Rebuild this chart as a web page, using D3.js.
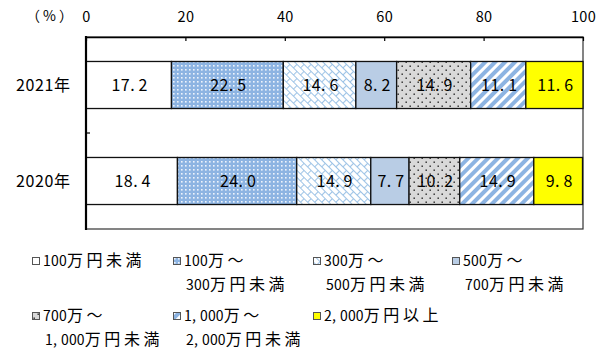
<!DOCTYPE html>
<html><head><meta charset="utf-8">
<script src="https://cdn.jsdelivr.net/npm/d3@7"></script>
<style>body{margin:0;background:#fff}svg{display:block}</style>
</head><body>
<svg id="c" width="605" height="356"></svg>
<script>
const years = ["2021年", "2020年"];
const seriesNames = ["100万円未満", "100万～300万円未満", "300万～500万円未満", "500万～700万円未満", "700万～1,000万円未満", "1,000万～2,000万円未満", "2,000万円以上"];
const legendLines = [["100万円未満"], ["100万～", "300万円未満"], ["300万～", "500万円未満"], ["500万～", "700万円未満"], ["700万～", "1,000万円未満"], ["1,000万～", "2,000万円未満"], ["2,000万円以上"]];
const values2021 = [17.2, 22.5, 14.6, 8.2, 14.9, 11.1, 11.6];
const values2020 = [18.4, 24.0, 14.9, 7.7, 10.2, 14.9, 9.8];
const tickValues = [0, 20, 40, 60, 80, 100];
const valueSets = [values2021, values2020];

const svg = d3.select("#c");
const FONT = "'Noto Sans CJK JP','Noto Sans',sans-serif";

// patterns
const defs = svg.append("defs");
const fills = ["#ffffff", "url(#p1)", "url(#p2)", "#b9cde5", "url(#p4)", "url(#p5)", "#ffff00"];
let p = defs.append("pattern").attr("id", "p1").attr("patternUnits", "userSpaceOnUse").attr("width", 4).attr("height", 4);
p.append("rect").attr("width", 4).attr("height", 4).attr("fill", "#8db4e2");
p.append("rect").attr("x", 1).attr("y", 1).attr("width", 1.6).attr("height", 1.6).attr("fill", "#eef4fc");
p = defs.append("pattern").attr("id", "p2").attr("patternUnits", "userSpaceOnUse").attr("width", 10).attr("height", 10).attr("patternTransform", "rotate(45)");
p.append("rect").attr("width", 10).attr("height", 10).attr("fill", "#fff");
p.append("path").attr("d", "M0,0.5H10M0,5.5H10M0.5,0.5V5.5M5.5,5.5V10.5").attr("stroke", "#9dc3e6").attr("stroke-width", 1.1).attr("fill", "none");
p = defs.append("pattern").attr("id", "p4").attr("patternUnits", "userSpaceOnUse").attr("width", 8).attr("height", 8);
p.append("rect").attr("width", 8).attr("height", 8).attr("fill", "#d9d9d9");
p.append("rect").attr("x", 1.5).attr("y", 1.5).attr("width", 1.4).attr("height", 1.4).attr("fill", "#222");
p.append("rect").attr("x", 5.5).attr("y", 5.5).attr("width", 1.4).attr("height", 1.4).attr("fill", "#222");
p = defs.append("pattern").attr("id", "p5").attr("patternUnits", "userSpaceOnUse").attr("width", 7).attr("height", 7).attr("patternTransform", "rotate(45)");
p.append("rect").attr("width", 7).attr("height", 7).attr("fill", "#fff");
p.append("rect").attr("width", 4).attr("height", 7).attr("fill", "#8db4e2");

// per-character spaced text (imitates the original's wide kanji pitch)
function spaced(sel, str, size, kanjiSize, kanjiGap, punctGap, digitGap) {
  sel.selectAll("tspan").data(Array.from(str)).join("tspan")
    .text(d => d)
    .attr("font-size", d => d.codePointAt(0) > 0x2e80 ? kanjiSize : size)
    .attr("letter-spacing", d => {
      const c = d.codePointAt(0);
      if (c > 0x2e80) return kanjiGap;
      if (d === "." || d === ",") return punctGap;
      return digitGap;
    });
  sel.attr("font-size", size).attr("font-family", FONT);
}

const x = d3.scaleLinear().domain([0, 100]).range([86, 583]);
const y = d3.scaleBand().domain(years).range([37, 229]).paddingInner(0.51).paddingOuter(0.255);

// frame
svg.append("rect").attr("x", x(0)).attr("y", 37).attr("width", x(100) - x(0)).attr("height", 229 - 37)
  .attr("fill", "none").attr("stroke", "#333").attr("stroke-width", 1.2);

// stacked bars
const stacks = years.map((yr, i) => {
  let acc = 0;
  return valueSets[i].map((v, j) => { const s = {yr, j, v, x0: acc, x1: acc + v}; acc += v; return s; });
}).flat();

const g = svg.append("g");
g.selectAll("rect.bar").data(stacks).join("rect").attr("class", "bar")
  .attr("x", d => x(d.x0)).attr("y", d => y(d.yr))
  .attr("width", d => x(Math.min(d.x1, 100)) - x(d.x0)).attr("height", y.bandwidth())
  .attr("fill", d => fills[d.j]).attr("stroke", "#111").attr("stroke-width", 1.3);

g.selectAll("text.lbl").data(stacks).join("text").attr("class", "lbl")
  .attr("x", d => (x(d.x0) + x(Math.min(d.x1, 100))) / 2 + 1)
  .attr("y", d => y(d.yr) + y.bandwidth() / 2)
  .attr("dy", "0.36em").attr("text-anchor", "middle").attr("fill", "#000")
  .each(function(d) { spaced(d3.select(this), d.v.toFixed(1), 16, 16, 0, 4, 0.4); });

// top axis
const ax = svg.append("g").attr("transform", "translate(0,37)")
  .call(d3.axisTop(x).tickValues(tickValues).tickSizeInner(-4).tickSizeOuter(0).tickPadding(15).tickFormat(d3.format("d")));
ax.select(".domain").attr("stroke", "#000").attr("stroke-width", 1.6);
ax.selectAll(".tick line").attr("stroke", "#000").attr("stroke-width", 1.2);
ax.selectAll(".tick text").attr("font-size", 14.5).attr("font-family", FONT).attr("fill", "#000").attr("letter-spacing", 0.3);
svg.append("text").attr("x", 76).attr("y", 16).attr("dy", "0.36em").attr("text-anchor", "end")
  .attr("font-size", 14).attr("letter-spacing", 3).attr("font-family", FONT).attr("fill", "#000").text("（%）");

// left axis
svg.append("line").attr("x1", x(0)).attr("x2", x(0)).attr("y1", 36).attr("y2", 230).attr("stroke", "#000").attr("stroke-width", 2.2);
const mid = (y(years[0]) + y.bandwidth() + y(years[1])) / 2;
svg.append("line").attr("x1", x(0)).attr("x2", x(0) + 4).attr("y1", mid).attr("y2", mid).attr("stroke", "#000").attr("stroke-width", 1.2);
svg.selectAll("text.cat").data(years).join("text").attr("class", "cat")
  .attr("x", 70).attr("y", d => y(d) + y.bandwidth() / 2).attr("dy", "0.36em").attr("text-anchor", "end").attr("fill", "#000")
  .each(function(d) { spaced(d3.select(this), d, 16, 16, 0, 0, 0.6); });

// legend
const legPos = [[32, 261], [173, 261], [313, 261], [452, 261], [32, 316], [173, 316], [313, 316]];
const lg = svg.selectAll("g.leg").data(seriesNames).join("g").attr("class", "leg")
  .attr("transform", (d, i) => `translate(${legPos[i][0]},${legPos[i][1]})`);
lg.append("rect").attr("x", 0.5).attr("y", -3.5).attr("width", 7).attr("height", 7)
  .attr("fill", (d, i) => fills[i]).attr("stroke", "#555").attr("stroke-width", 1);
lg.each(function(d, i) {
  const gg = d3.select(this);
  legendLines[i].forEach((ln, k) => {
    const t = gg.append("text").attr("x", k === 0 ? 11 : 13).attr("y", k * 24).attr("dy", "0.36em").attr("fill", "#000");
    spaced(t, ln, 14, 16, 3.5, 4, 0.2);
  });
});
</script>
</body></html>
